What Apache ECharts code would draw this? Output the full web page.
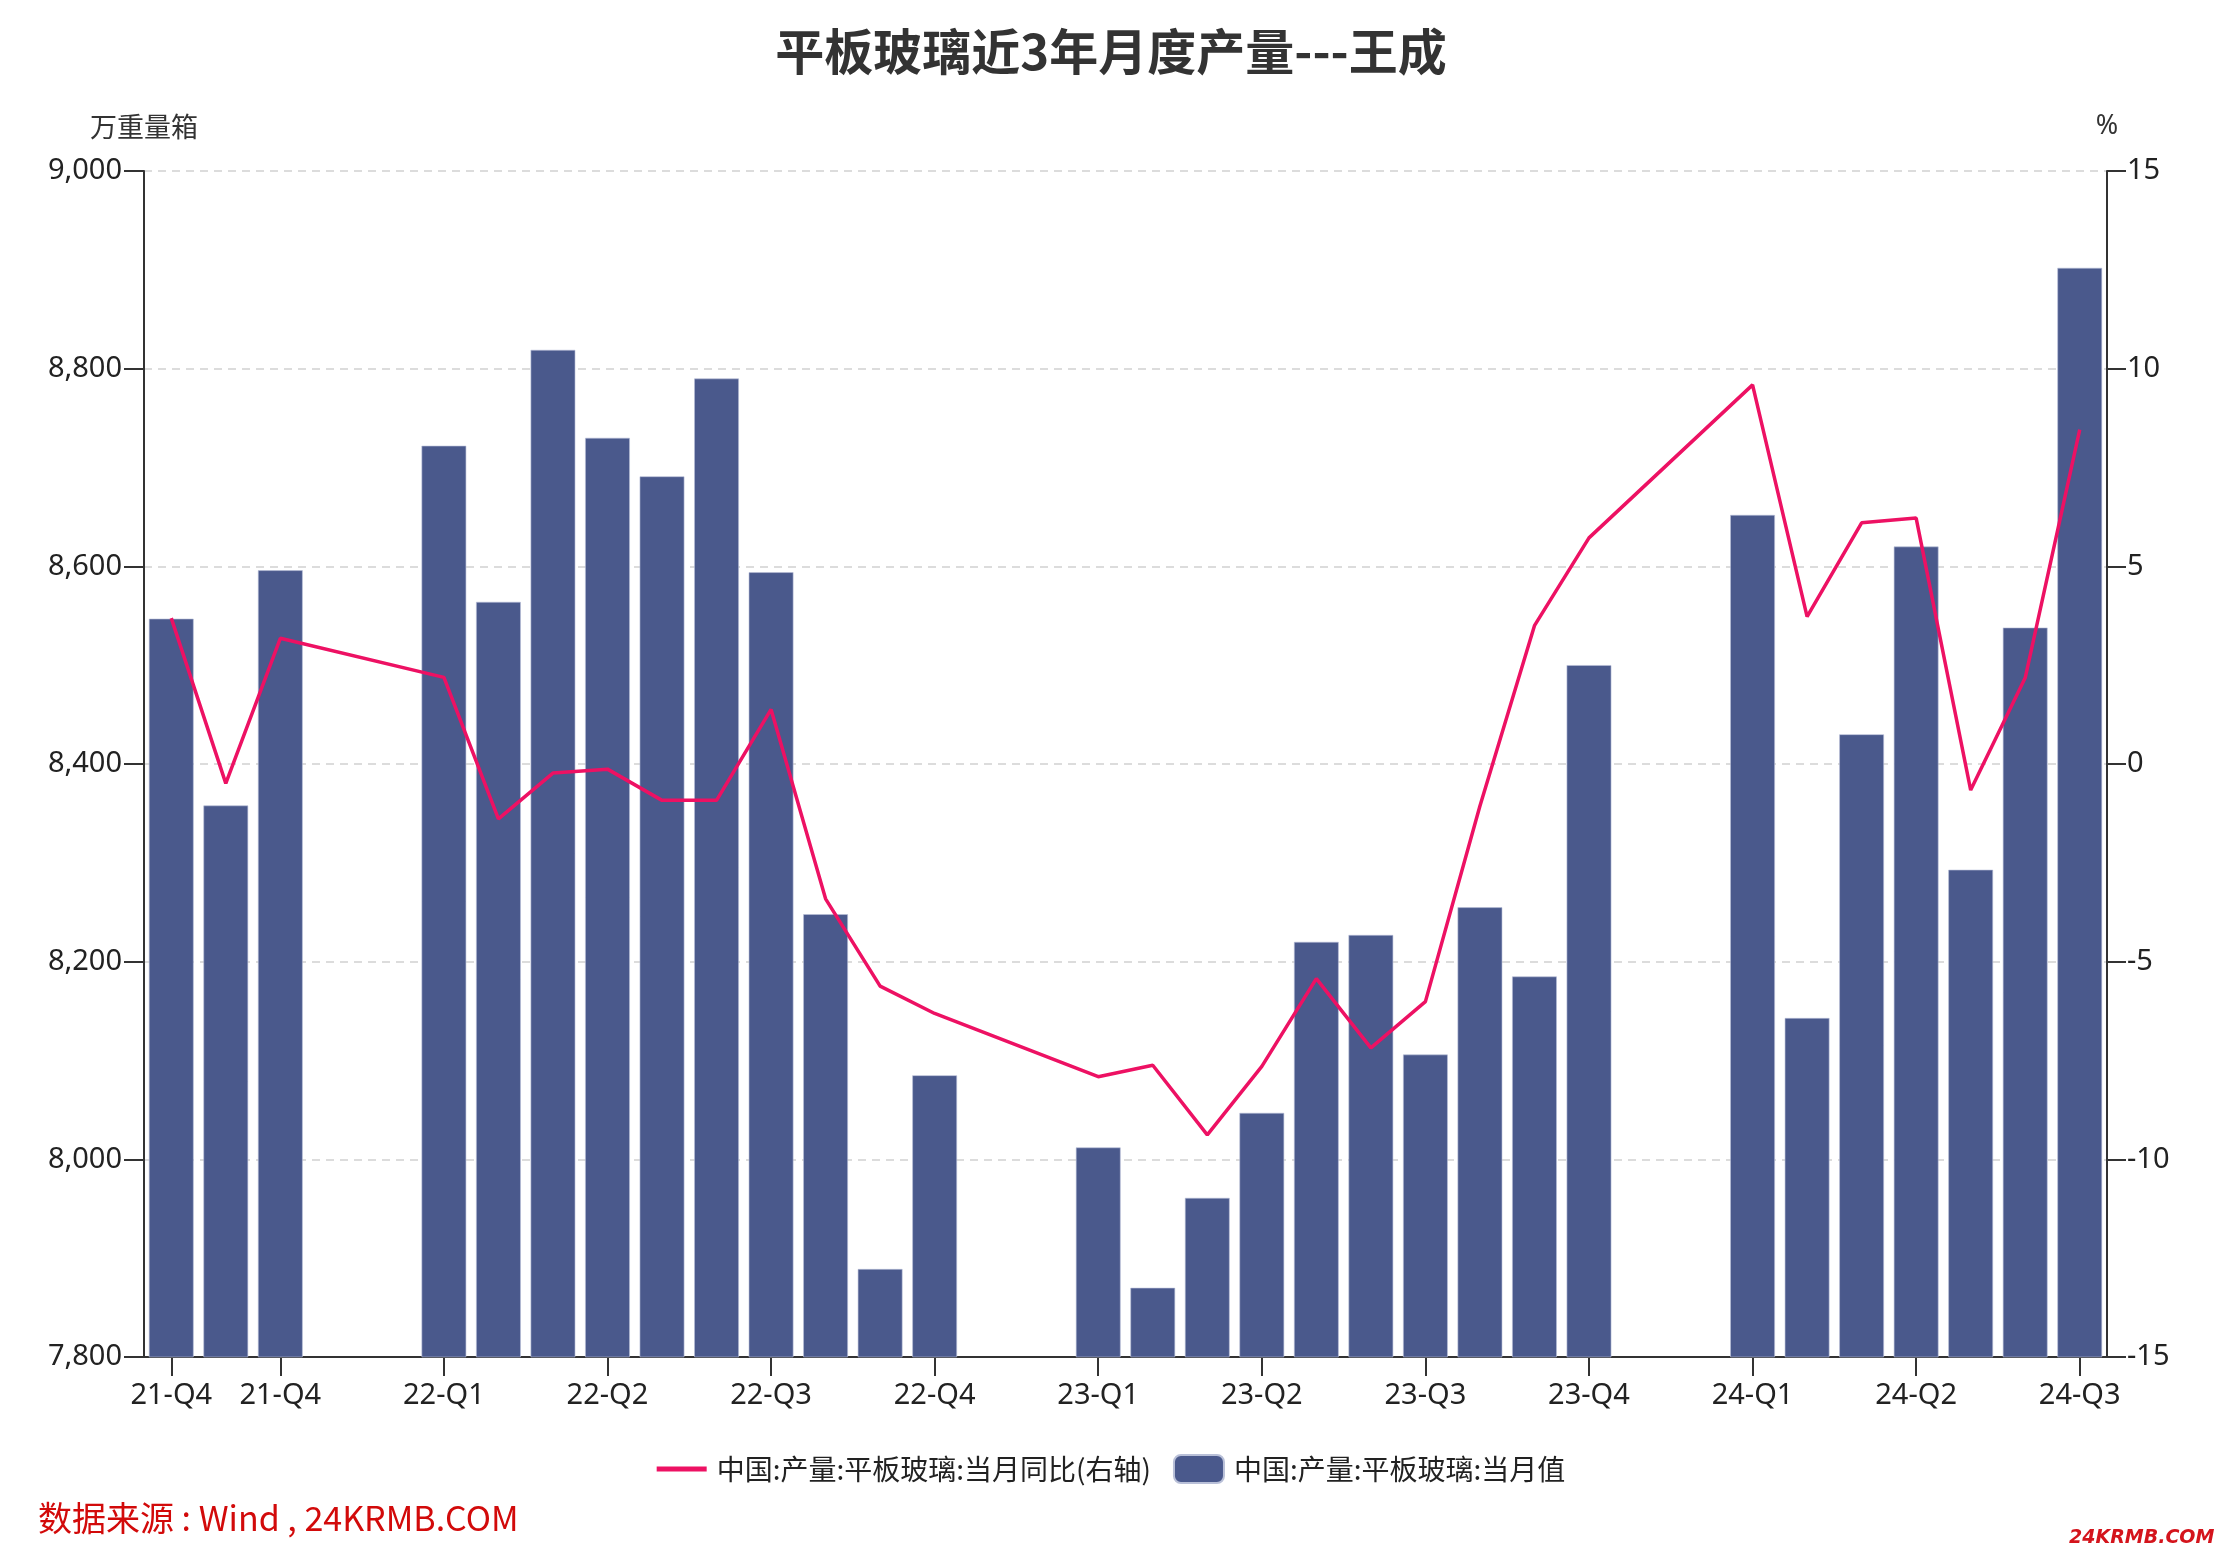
<!DOCTYPE html>
<html>
<head>
<meta charset="utf-8">
<script src="https://cdn.jsdelivr.net/npm/echarts@6/dist/echarts.min.js"></script>
<style>
html,body{margin:0;padding:0;background:#fff;overflow:hidden;}
#chart{width:2222px;height:1568px;}
</style>
</head>
<body>
<div id="chart"></div>
<script>
// ---- data ----
const titleText = '平板玻璃近3年月度产量---王成';
const months = [
  '2021-10','2021-11','2021-12','2022-01','2022-02','2022-03','2022-04','2022-05','2022-06',
  '2022-07','2022-08','2022-09','2022-10','2022-11','2022-12','2023-01','2023-02','2023-03',
  '2023-04','2023-05','2023-06','2023-07','2023-08','2023-09','2023-10','2023-11','2023-12',
  '2024-01','2024-02','2024-03','2024-04','2024-05','2024-06','2024-07','2024-08','2024-09'
];
const labelIdx = [0, 2, 5, 8, 11, 14, 17, 20, 23, 26, 29, 32, 35];
const outputName = '中国:产量:平板玻璃:当月值';
const yoyName = '中国:产量:平板玻璃:当月同比(右轴)';
const output = [
  8547, 8358, 8596, null, null, 8722, 8564, 8819, 8730, 8691, 8790, 8594,
  8248, 7889, 8085, null, null, 8012, 7870, 7961, 8047, 8220, 8227, 8106,
  8255, 8185, 8500, null, null, 8652, 8143, 8430, 8620, 8293, 8538, 8902
];
const yoy = [
  3.69, -0.49, 3.18, null, null, 2.19, -1.39, -0.23, -0.13, -0.92, -0.92, 1.38,
  -3.41, -5.62, -6.31, null, null, -7.91, -7.62, -9.38, -7.65, -5.43, -7.18, -6.01,
  -1.06, 3.50, 5.72, null, null, 9.59, 3.73, 6.10, 6.22, -0.66, 2.18, 8.46
];
const leftAxisName = '万重量箱';
const rightAxisName = '%';
const sourceText = '数据来源 : Wind , 24KRMB.COM';
const watermarkText = '24KRMB.COM';

// ---- chart ----
const cjk = '"Noto Sans CJK SC", "Noto Sans", sans-serif';
const num = '"Noto Sans", "Open Sans", sans-serif';
const axisColor = '#333';
const lineColor = '#ed1163';
const barColor = '#4a598c';

function quarterLabel(m) {
  const y = m.slice(2, 4);
  const q = Math.floor((parseInt(m.slice(5, 7), 10) - 1) / 3) + 1;
  return y + '-Q' + q;
}
const showIdx = (i) => labelIdx.indexOf(i) >= 0;

const chart = echarts.init(document.getElementById('chart'), null, {renderer: 'canvas'});
chart.setOption({
  backgroundColor: '#fff',
  animation: false,
  title: {
    text: titleText,
    left: 'center',
    top: 22,
    textStyle: {fontFamily: cjk, fontSize: 49, fontWeight: 'bold', color: '#333'}
  },
  legend: {
    left: 'center',
    top: 1449,
    itemWidth: 50,
    itemHeight: 28,
    itemGap: 22,
    symbolKeepAspect: true,
    textStyle: {fontFamily: cjk, fontSize: 28, color: '#222', padding: [0, 0, 0, 5]},
    data: [
      {name: yoyName, icon: 'path://M0,0L50,0L50,5L0,5Z', itemStyle: {color: lineColor}},
      {name: outputName, icon: 'roundRect', itemStyle: {color: barColor}}
    ]
  },
  grid: {
    left: 144, right: 115, top: 171, bottom: 211,
    containLabel: false, outerBoundsMode: 'none'
  },
  xAxis: {
    type: 'category',
    data: months,
    boundaryGap: true,
    axisLine: {show: true, onZero: false, lineStyle: {color: axisColor, width: 2}},
    axisTick: {show: true, alignWithLabel: true, interval: (i) => showIdx(i), length: 19,
      lineStyle: {color: axisColor, width: 2}},
    axisLabel: {interval: (i) => showIdx(i), formatter: (v) => quarterLabel(v), margin: 24,
      fontFamily: num, fontSize: 29, color: '#222', hideOverlap: false},
    splitLine: {show: false}
  },
  yAxis: [
    {
      type: 'value',
      position: 'left',
      min: 7800, max: 9000, interval: 200,
      name: leftAxisName,
      nameLocation: 'end',
      nameGap: 31,
      nameTextStyle: {fontFamily: cjk, fontSize: 27, color: '#333', align: 'center'},
      axisLine: {show: true, lineStyle: {color: axisColor, width: 2}},
      axisTick: {show: true, length: 20, lineStyle: {color: axisColor, width: 2}},
      axisLabel: {margin: 22, fontFamily: num, fontSize: 29, color: '#222',
        formatter: (v) => v.toLocaleString('en-US')},
      splitLine: {show: true, lineStyle: {color: '#dcdcdc', width: 2, type: [8, 6]}}
    },
    {
      type: 'value',
      position: 'right',
      min: -15, max: 15, interval: 5,
      name: rightAxisName,
      nameLocation: 'end',
      nameGap: 31,
      nameTextStyle: {fontFamily: num, fontSize: 27, color: '#333', align: 'center'},
      axisLine: {show: true, onZero: false, lineStyle: {color: axisColor, width: 2}},
      axisTick: {show: true, length: 19, lineStyle: {color: axisColor, width: 2}},
      axisLabel: {margin: 20, fontFamily: num, fontSize: 29, color: '#222'},
      splitLine: {show: false}
    }
  ],
  series: [
    {
      name: outputName,
      type: 'bar',
      yAxisIndex: 0,
      data: output,
      barCategoryGap: '18%',
      itemStyle: {color: barColor, borderColor: '#b9c0d8', borderWidth: 0.6},
      z: 2
    },
    {
      name: yoyName,
      type: 'line',
      yAxisIndex: 1,
      data: yoy,
      connectNulls: true,
      symbol: 'none',
      showSymbol: false,
      lineStyle: {color: lineColor, width: 3.5},
      itemStyle: {color: lineColor},
      z: 3
    }
  ],
  graphic: [
    {
      type: 'text',
      left: 38,
      top: 1501,
      style: {text: sourceText, fontFamily: cjk, fontSize: 34, fill: '#d20a0a'}
    },
    {
      type: 'text',
      left: 2069,
      top: 1529,
      style: {text: watermarkText, fontFamily: '"DejaVu Sans", sans-serif', fontSize: 19,
        fontStyle: 'italic', fontWeight: 'bold', fill: '#d4141c'}
    }
  ]
});
</script>
</body>
</html>
